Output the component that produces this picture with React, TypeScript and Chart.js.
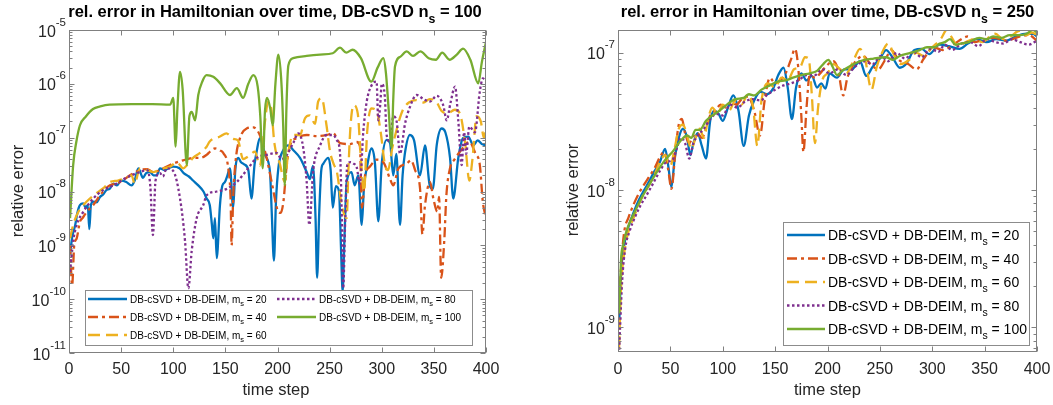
import React, { useEffect, useRef } from "react";
import { Chart, registerables } from "chart.js";

Chart.register(...registerables);

const FONT = '"Liberation Sans", Arial, Helvetica, sans-serif';
const TEXT_COLOR = "#262626";
const AXIS_COLOR = "#808080";

// ---------- series meta ----------
const SERIES_MS = ["20", "40", "60", "80", "100"];
const SERIES_COLORS = ["#0072BD", "#D95319", "#EDB120", "#7E2F8E", "#77AC30"];
const SERIES_DASH: number[][] = [[], [10, 4, 3, 4], [12, 6], [2.5, 2.5], []];
const LINE_WIDTH = 2.3;

// ---------- axes ----------
const X_TICKS = [0, 50, 100, 150, 200, 250, 300, 350, 400];
const LEFT_DECADES = [-11, -10, -9, -8, -7, -6, -5];
const RIGHT_DECADES = [-9, -8, -7];
const LEFT_Y_MIN = 1e-11;
const LEFT_Y_MAX = 1e-5;
const RIGHT_Y_MIN = 6.6e-10;
const RIGHT_Y_MAX = 1.47e-7;

// ---------- left panel data (n_s = 100): [time step, relative error] ----------
const leftM20: [number, number][] = [
  [1, 6.6e-10], [3, 1.4e-9], [6, 2.4e-9], [8, 4.0e-9], [10.5, 5.6e-9], [13.7, 6.0e-9], [16, 5.0e-9], [18, 5.6e-9],
  [19.5, 2.0e-9], [21, 5.6e-9], [23.3, 6.5e-9], [26.5, 6.3e-9], [29.7, 7.9e-9], [33, 8.9e-9], [36, 1.07e-8],
  [39, 1.12e-8], [42.5, 1.4e-8], [46, 1.3e-8], [50, 1.6e-8], [55, 1.5e-8], [60, 1.3e-8], [63, 1.6e-8],
  [66.5, 2.7e-8], [71, 1.8e-8], [74, 2.2e-8], [77.7, 2.3e-8], [81, 2.0e-8], [84, 2.0e-8], [87.3, 2.7e-8],
  [92, 2.5e-8], [96, 2.75e-8], [100, 2.9e-8], [106, 2.7e-8], [110, 2.2e-8], [115, 1.9e-8], [119, 1.6e-8],
  [124, 1.3e-8], [129, 1.0e-8], [132, 7.4e-9], [135, 5.6e-9], [137, 2.5e-9], [138.4, 1.35e-9], [140, 3.2e-9],
  [141.7, 5.8e-10], [144.8, 5.6e-9], [147, 1.26e-8], [149.6, 1.5e-8], [152, 2.0e-8], [154.4, 2.7e-8],
  [157.5, 5.0e-9], [159.5, 2.5e-8], [162.4, 4.2e-8], [165, 3.5e-8], [168, 3.2e-8], [172, 2.5e-8], [175, 7.4e-9],
  [178, 3.2e-8], [180, 5.5e-8], [183, 9.8e-8], [186, 7.1e-8], [188, 4.8e-8], [192.8, 2.3e-8], [194.5, 4.0e-9],
  [196.6, 5.2e-10], [198.5, 6.3e-9], [200.8, 2.7e-8], [205.6, 5.9e-8], [210.4, 7.2e-8], [215, 5.9e-8],
  [221.6, 4.2e-8], [228, 2.3e-8], [231, 1.7e-8], [234, 3.0e-8], [236.5, 3.2e-9], [238, 2.5e-10], [240, 4.0e-9],
  [242, 2.5e-8], [244, 3.3e-8], [248.7, 4.2e-8], [251, 2.5e-8], [253, 5.0e-9], [256, 1.26e-8], [259, 1.0e-8],
  [261, 7.9e-10], [262.5, 1.4e-10], [264, 1.0e-9], [266.4, 1.5e-8], [271, 2.3e-8], [274, 1.3e-8], [277.5, 2.0e-8],
  [280.8, 2.4e-9], [283, 1.26e-8], [285.6, 2.7e-8], [290.3, 6.3e-8], [293.5, 3.3e-8], [296.7, 2.8e-9],
  [300, 3.3e-8], [304.7, 9.1e-8], [308, 7.9e-8], [311, 2.0e-8], [314, 5.0e-8], [317.5, 2.4e-9], [320, 2.0e-8],
  [322, 4.8e-8], [327, 1.12e-7], [331, 8.9e-8], [336.7, 2.0e-8], [341.5, 7.2e-8], [346, 1.3e-8], [349, 1.12e-8],
  [352.7, 7.2e-8], [357.5, 1.48e-7], [361, 1.26e-7], [365.5, 4.2e-8], [368.6, 7.4e-9], [373.4, 4.2e-8],
  [378, 9.8e-8], [383, 1.05e-7], [387.8, 7.2e-8], [392, 8.9e-8], [396, 7.6e-8], [400, 7.2e-8],
];

const leftM40: [number, number][] = [
  [1, 1.0e-9], [3, 1.8e-10], [5, 1.0e-9], [7.4, 1.35e-9], [10.5, 2.75e-9], [13, 3.2e-9], [17, 4.2e-9],
  [23.3, 5.6e-9], [29.7, 8.5e-9], [35, 1.12e-8], [39.3, 1.3e-8], [49, 1.5e-8], [58.5, 2.0e-8], [68, 2.5e-8],
  [75, 2.6e-8], [81, 2.3e-8], [90.5, 2.7e-8], [100, 3.3e-8], [109.6, 3.8e-8], [119, 4.2e-8], [125.7, 4.2e-8],
  [132, 4.8e-8], [135.3, 5.5e-8], [140, 6.3e-8], [144.8, 5.8e-8], [148, 5.2e-8], [152.8, 2.7e-8], [155, 7.4e-9],
  [156, 1.0e-9], [157.5, 7.9e-9], [160, 4.0e-8], [164, 9.8e-8], [170.4, 1.48e-7], [176.8, 1.55e-7],
  [183, 1.12e-7], [189.6, 4.2e-8], [194.4, 1.5e-8], [200.8, 4.2e-9], [203, 4.0e-9], [205.6, 6.3e-9],
  [208.8, 3.0e-8], [212, 7.2e-8], [218.4, 9.8e-8], [228, 1.12e-7], [237.6, 1.07e-7], [247, 1.12e-7],
  [253.5, 1.2e-7], [260, 7.9e-8], [269.5, 7.6e-8], [276, 8.3e-8], [279, 7.1e-8], [281, 5.0e-9], [284, 2.0e-8],
  [288.7, 2.9e-8], [295, 3.9e-8], [301.5, 3.5e-8], [308, 1.7e-8], [311, 1.3e-8], [316, 2.7e-8], [324, 3.3e-8],
  [328, 3.8e-8], [332, 2.5e-8], [336.7, 1.15e-8], [339, 1.6e-9], [341.5, 5.6e-9], [346.3, 1.5e-8],
  [349.5, 7.4e-9], [353.3, 4.2e-9], [355, 7.9e-9], [357, 2.5e-10], [360, 1.26e-9], [362, 8.5e-9],
  [365.5, 2.7e-8], [370, 4.0e-8], [375, 5.5e-8], [380, 7.2e-8], [383, 8.3e-8], [386, 7.6e-8], [390, 5.0e-8],
  [394, 3.2e-8], [397, 6.3e-9], [400, 3.2e-9],
];

const leftM60: [number, number][] = [
  [1, 1.35e-9], [4, 2.4e-9], [9, 4.2e-9], [17, 6.5e-9], [25, 8.9e-9], [33, 1.15e-8], [39.3, 1.5e-8], [47, 1.6e-8],
  [55, 1.8e-8], [60, 2.0e-8], [63, 1.4e-8], [68, 2.7e-8], [75, 2.5e-8], [81, 2.3e-8], [88, 2.6e-8], [97, 2.9e-8],
  [103.3, 3.5e-8], [109.6, 2.7e-8], [114, 3.2e-8], [119, 4.2e-8], [125.6, 5.2e-8], [132, 6.8e-8], [135, 8.5e-8],
  [144.8, 1.05e-7], [151, 1.2e-7], [157.5, 9.5e-8], [162, 8.9e-8], [167, 4.0e-8], [172, 4.5e-8], [178.4, 5.5e-8],
  [183, 3.0e-8], [188, 2.0e-7], [191, 4.7e-7], [194, 3.5e-7], [197, 7.9e-8], [202.4, 3.2e-8], [207, 1.5e-8],
  [210, 4.8e-8], [215, 1.12e-7], [221.6, 1.12e-7], [226.4, 2.3e-7], [231, 2.6e-7], [236, 1.8e-7], [239, 4.7e-7],
  [242.4, 5.4e-7], [247, 1.7e-7], [250.4, 5.5e-8], [254, 3.2e-8], [257, 2.3e-8], [261.6, 5.6e-9], [266.4, 3.2e-9],
  [268, 2.5e-8], [270, 1.6e-7], [273, 4.0e-7], [277, 2.8e-7], [280, 4.0e-8], [283, 1.0e-8], [286, 1.26e-7],
  [290, 3.5e-7], [295, 3.2e-7], [299, 1.26e-7], [303, 3.2e-8], [306, 2.5e-8], [310, 6.3e-8], [315, 1.6e-7],
  [320, 3.2e-7], [326, 4.5e-7], [333, 5.0e-7], [340, 4.5e-7], [346, 5.2e-7], [352, 4.8e-7], [357, 3.2e-7],
  [363, 2.8e-7], [370, 3.3e-7], [375, 2.8e-7], [380, 7.9e-8], [384, 1.6e-8], [387, 4.0e-8], [391, 2.5e-7],
  [395, 2.0e-7], [398, 1.0e-7], [400, 1.6e-7],
];

const leftM80: [number, number][] = [
  [1, 3.2e-10], [2.5, 6.3e-10], [4, 1.2e-9], [7.4, 2.4e-9], [13.7, 4.2e-9], [23.3, 7.4e-9], [33, 1.07e-8],
  [42.5, 1.3e-8], [55, 1.8e-8], [68, 2.3e-8], [75, 2.5e-8], [78, 1.26e-8], [80.5, 1.55e-9], [83, 1.6e-8],
  [87.3, 2.2e-8], [90, 1.9e-8], [93.7, 2.7e-8], [100, 2.4e-8], [106.5, 7.4e-9], [111.3, 1.2e-9], [114.5, 1.6e-10],
  [117.7, 7.9e-10], [122.5, 3.2e-9], [128.8, 5.6e-9], [132, 8.5e-9], [141.7, 1.0e-8], [151.3, 1.12e-8],
  [160.9, 1.5e-8], [170.5, 2.5e-8], [180, 4.2e-8], [189.6, 4.8e-8], [199, 5.2e-8], [204, 4.0e-8], [208, 4.5e-8],
  [215, 7.9e-8], [220, 1.2e-7], [224.8, 6.3e-8], [228, 1.5e-8], [230.5, 2.4e-9], [234.3, 2.5e-8], [240.8, 7.1e-8],
  [247, 1.12e-7], [253.5, 1.12e-7], [257, 8.9e-8], [260, 5.0e-8], [261.5, 5.0e-9], [263, 1.6e-10], [265, 3.2e-9],
  [267, 3.2e-8], [270, 3.5e-8], [273, 3.3e-8], [276, 2.8e-8], [279, 1.4e-8], [282.3, 1.3e-7], [285.6, 4.7e-7],
  [290.4, 9.5e-7], [295, 1.1e-6], [296.7, 2.1e-7], [298.5, 4.0e-7], [300, 1.0e-6], [303, 5.6e-7], [304.7, 1.12e-7],
  [308, 8.5e-8], [311, 2.5e-7], [314.3, 2.0e-7], [317.5, 5.0e-8], [322.3, 1.8e-7], [327, 3.7e-7], [333.5, 6.2e-7],
  [340, 5.2e-7], [346.3, 4.7e-7], [352.7, 6.0e-7], [359, 4.0e-7], [362.3, 2.1e-7], [366, 4.5e-7], [370.3, 8.9e-7],
  [373.4, 2.1e-7], [376.6, 3.1e-8], [379, 1.26e-7], [381, 5.0e-8], [384, 1.6e-7], [389.4, 1.26e-7], [394, 7.1e-7],
  [397, 1.26e-6], [400, 1.1e-6],
];

const leftM100: [number, number][] = [
  [1, 3.2e-9], [4, 3.1e-8], [7, 8.3e-8], [10.5, 1.7e-7], [16, 2.45e-7], [23, 3.4e-7], [30, 3.8e-7], [39, 4.1e-7],
  [60, 4.2e-7], [80, 4.2e-7], [97, 4.1e-7], [100, 5.5e-7], [102.3, 6.8e-8], [104, 3.5e-7], [106.5, 1.66e-6],
  [109, 7.9e-7], [113, 3.1e-8], [115.5, 2.5e-7], [117.7, 3.0e-7], [121, 2.1e-7], [124, 6.2e-7], [128, 1.12e-6],
  [132, 1.45e-6], [138.4, 1.35e-6], [145, 1.02e-6], [154.4, 6.2e-7], [161, 8.3e-7], [167, 5.5e-7], [172, 1.0e-6],
  [176.8, 1.45e-6], [181, 8.9e-7], [183.5, 2.5e-7], [185.8, 2.7e-8], [188, 3.2e-7], [190, 5.5e-7], [193, 3.5e-7],
  [195.4, 1.7e-7], [198, 1.0e-6], [200.8, 3.5e-6], [203.5, 1.26e-6], [205.5, 1.6e-7], [207, 1.3e-8],
  [208.5, 3.2e-7], [210.4, 2.2e-6], [215, 3.0e-6], [228, 3.3e-6], [240.8, 3.5e-6], [253, 3.7e-6], [260, 4.7e-6],
  [266, 3.8e-6], [272, 4.3e-6], [280, 3.0e-6], [290, 1.1e-6], [296, 2.0e-6], [301.5, 3.0e-6], [304, 1.6e-6],
  [306.3, 4.1e-7], [309.5, 6.5e-8], [311, 5.0e-7], [312.7, 2.1e-6], [318, 3.2e-6], [324, 4.0e-6], [330, 3.3e-6],
  [337, 4.0e-6], [345, 3.0e-6], [352, 2.8e-6], [358, 3.8e-6], [365, 2.8e-6], [372, 3.5e-6], [378, 4.5e-6],
  [385, 2.8e-6], [392.6, 1.02e-6], [396, 2.5e-6], [400, 6.0e-6],
];

// ---------- right panel data (n_s = 250) ----------
const rightM20: [number, number][] = [
  [1, 1.0e-9], [3, 2.5e-9], [6, 4.0e-9], [10, 5.4e-9], [15, 6.9e-9], [20, 8.5e-9], [25, 1.0e-8], [30, 1.17e-8],
  [35, 1.38e-8], [40, 1.6e-8], [45, 2.0e-8], [48, 1.5e-8], [51, 1.05e-8], [54, 1.66e-8], [58, 2.4e-8], [62, 2.8e-8],
  [66, 2.4e-8], [69, 1.8e-8], [72, 2.2e-8], [76, 2.6e-8], [80, 2.1e-8], [84, 1.7e-8], [88, 3.2e-8], [92, 3.8e-8],
  [96, 3.6e-8], [100, 3.2e-8], [105, 4.0e-8], [110, 4.9e-8], [115, 3.8e-8], [120, 2.1e-8], [125, 3.5e-8],
  [130, 4.5e-8], [136, 5.2e-8], [142, 5.0e-8], [148, 5.5e-8], [153, 6.9e-8], [158, 7.8e-8], [162, 5.6e-8],
  [166, 3.3e-8], [170, 5.6e-8], [175, 7.1e-8], [180, 6.3e-8], [185, 6.8e-8], [190, 5.6e-8], [194, 6.0e-8],
  [198, 5.5e-8], [202, 7.1e-8], [209, 6.6e-8], [216, 7.6e-8], [223, 7.6e-8], [231, 8.7e-8], [237, 6.8e-8],
  [243, 7.9e-8], [250, 9.1e-8], [256, 1.05e-7], [262, 9.3e-8], [269, 7.8e-8], [275, 8.3e-8], [283, 1.05e-7],
  [290, 1.07e-7], [297, 9.8e-8], [307, 1.15e-7], [316, 1.12e-7], [326, 1.07e-7], [334, 1.17e-7], [342, 1.26e-7],
  [352, 1.2e-7], [361, 1.26e-7], [371, 1.23e-7], [380, 1.32e-7], [390, 1.38e-7], [396, 1.38e-7], [400, 1.32e-7],
];

const rightM40: [number, number][] = [
  [1, 1.4e-9], [3, 2.8e-9], [6, 5.0e-9], [10, 6.3e-9], [15, 7.9e-9], [20, 9.5e-9], [25, 1.1e-8], [30, 1.26e-8],
  [35, 1.45e-8], [40, 1.74e-8], [44, 1.9e-8], [48, 1.4e-8], [51, 1.02e-8], [55, 2.0e-8], [58, 3.0e-8], [61, 3.3e-8],
  [64, 2.6e-8], [68, 2.2e-8], [72, 2.5e-8], [76, 2.6e-8], [80, 2.4e-8], [84, 2.8e-8], [88, 3.5e-8], [93, 3.8e-8],
  [98, 4.2e-8], [103, 4.0e-8], [108, 4.4e-8], [113, 4.2e-8], [118, 4.6e-8], [124, 4.8e-8], [130, 3.8e-8],
  [135.6, 2.5e-8], [140, 4.5e-8], [145, 6.6e-8], [150, 6.0e-8], [155, 6.3e-8], [160, 7.1e-8], [165, 8.9e-8],
  [169, 1.07e-7], [172, 7.9e-8], [175, 3.5e-8], [177, 1.9e-8], [180, 4.0e-8], [183, 6.9e-8], [188, 6.6e-8],
  [193, 7.1e-8], [198, 7.9e-8], [205.6, 8.7e-8], [210, 7.6e-8], [215, 4.9e-8], [219, 6.6e-8], [225, 8.3e-8],
  [234, 9.5e-8], [241, 8.3e-8], [248.5, 7.6e-8], [255, 8.9e-8], [261, 1.05e-7], [268, 8.9e-8], [277, 8.3e-8],
  [285, 7.6e-8], [292, 9.1e-8], [301, 1.1e-7], [310, 1.05e-7], [320, 1.15e-7], [330, 1.29e-7], [334, 1.32e-7],
  [340, 1.2e-7], [350, 1.26e-7], [359, 1.29e-7], [370, 1.23e-7], [384, 1.32e-7], [392, 1.35e-7], [400, 1.23e-7],
];

const rightM60: [number, number][] = [
  [1, 7.1e-10], [3, 2.0e-9], [6, 3.5e-9], [10, 5.0e-9], [15, 6.3e-9], [20, 7.9e-9], [25, 9.5e-9], [30, 1.1e-8],
  [35, 1.3e-8], [40, 1.6e-8], [45, 1.8e-8], [50, 1.5e-8], [54, 2.0e-8], [58, 2.8e-8], [62, 3.0e-8], [66, 2.5e-8],
  [70, 2.0e-8], [74, 2.4e-8], [78, 2.8e-8], [82, 2.4e-8], [86, 3.3e-8], [90, 4.0e-8], [95, 3.6e-8], [100, 4.2e-8],
  [106, 3.8e-8], [112, 4.5e-8], [118, 4.2e-8], [124, 5.0e-8], [129, 4.0e-8], [133, 2.1e-8], [137, 4.5e-8],
  [143, 6.0e-8], [150, 5.6e-8], [156, 6.6e-8], [162, 6.3e-8], [168, 7.6e-8], [174, 7.9e-8], [178.5, 9.3e-8],
  [182, 9.1e-8], [185, 5.0e-8], [188, 2.2e-8], [191, 4.0e-8], [195, 6.3e-8], [200, 7.1e-8], [206, 8.3e-8],
  [212, 7.6e-8], [218, 7.1e-8], [225, 8.9e-8], [231, 1.07e-7], [236, 8.9e-8], [242, 5.4e-8], [247, 7.9e-8],
  [252, 1.0e-7], [258, 1.17e-7], [264, 9.5e-8], [270, 8.3e-8], [278, 8.9e-8], [285, 1.0e-7], [292, 9.5e-8],
  [300, 1.1e-7], [308, 1.26e-7], [314, 1.48e-7], [318, 1.32e-7], [325, 1.12e-7], [332, 1.2e-7], [340, 1.26e-7],
  [348, 1.2e-7], [355, 1.32e-7], [360, 1.38e-7], [368, 1.26e-7], [375, 1.32e-7], [383, 1.45e-7], [390, 1.35e-7],
  [395, 1.41e-7], [400, 1.35e-7],
];

const rightM80: [number, number][] = [
  [1, 6.3e-10], [2, 1.0e-9], [4, 2.2e-9], [7, 3.8e-9], [11, 5.0e-9], [16, 6.3e-9], [21, 7.6e-9], [27, 9.1e-9],
  [33, 1.1e-8], [40, 1.38e-8], [46, 1.6e-8], [52, 1.66e-8], [56, 2.0e-8], [60, 2.4e-8], [64, 2.2e-8], [68, 1.7e-8],
  [72, 2.2e-8], [76, 2.5e-8], [82, 2.8e-8], [88, 3.3e-8], [94, 3.6e-8], [100, 3.5e-8], [107, 4.2e-8], [114, 4.0e-8],
  [121, 4.4e-8], [128, 4.6e-8], [136, 4.5e-8], [143, 5.0e-8], [150, 5.4e-8], [158, 5.8e-8], [165, 6.0e-8],
  [172, 6.3e-8], [180, 6.9e-8], [188, 6.9e-8], [195, 7.6e-8], [202, 7.1e-8], [210, 7.6e-8], [218, 6.9e-8],
  [226, 7.9e-8], [235, 8.7e-8], [243, 8.3e-8], [251, 9.5e-8], [258, 8.7e-8], [266, 1.0e-7], [274, 9.1e-8],
  [282, 1.02e-7], [290, 9.3e-8], [298, 1.07e-7], [306, 1.02e-7], [312, 1.15e-7], [319, 1.05e-7], [328, 1.17e-7],
  [336, 1.2e-7], [344, 1.12e-7], [352, 1.26e-7], [360, 1.2e-7], [368, 1.17e-7], [376, 1.26e-7], [384, 1.2e-7],
  [392, 1.15e-7], [400, 1.23e-7],
];

const rightM100: [number, number][] = [
  [1, 1.26e-9], [2, 2.0e-9], [3, 3.2e-9], [5, 4.0e-9], [8, 5.0e-9], [12, 6.0e-9], [17, 7.2e-9], [23, 8.9e-9],
  [30, 1.1e-8], [37, 1.35e-8], [45, 1.66e-8], [52, 1.9e-8], [60, 2.3e-8], [66, 2.5e-8], [70, 2.4e-8],
  [74, 2.75e-8], [78, 2.75e-8], [84, 3.2e-8], [90, 3.5e-8], [97, 3.8e-8], [104, 4.2e-8], [112, 4.6e-8],
  [120, 4.7e-8], [125, 5.0e-8], [130, 4.9e-8], [137, 5.4e-8], [145, 5.8e-8], [153, 6.2e-8], [160, 6.3e-8],
  [167, 6.6e-8], [175, 6.9e-8], [183, 7.1e-8], [190, 7.4e-8], [196, 8.3e-8], [200.8, 8.9e-8], [205, 7.9e-8],
  [209, 6.9e-8], [214, 7.4e-8], [220, 7.9e-8], [231, 8.7e-8], [244, 9.1e-8], [256, 9.3e-8], [262, 8.9e-8],
  [269, 9.5e-8], [279, 1.0e-7], [288, 1.05e-7], [295, 1.1e-7], [302, 1.1e-7], [307, 1.17e-7], [312, 1.2e-7],
  [317, 1.26e-7], [322, 1.15e-7], [327, 1.17e-7], [335, 1.2e-7], [345, 1.29e-7], [352, 1.26e-7], [358, 1.32e-7],
  [366, 1.29e-7], [374, 1.35e-7], [384, 1.35e-7], [390, 1.38e-7], [396, 1.48e-7], [400, 1.41e-7],
];

const LEFT_SERIES = [leftM20, leftM40, leftM60, leftM80, leftM100];
const RIGHT_SERIES = [rightM20, rightM40, rightM60, rightM80, rightM100];

// ---------- helpers ----------
const font = (size: number, bold = false) => `${bold ? "bold " : ""}${size}px ${FONT}`;

type Part = { t: string; sub?: boolean };

function drawRich(ctx: CanvasRenderingContext2D, parts: Part[], x: number, baseline: number, size: number, bold: boolean, align: "left" | "center") {
  const subSize = size * 0.75;
  const widths = parts.map((p) => {
    ctx.font = font(p.sub ? subSize : size, bold);
    return ctx.measureText(p.t).width;
  });
  const total = widths.reduce((s, w) => s + w, 0);
  let cx = align === "center" ? x - total / 2 : x;
  ctx.textAlign = "left";
  ctx.textBaseline = "alphabetic";
  parts.forEach((p, i) => {
    ctx.font = font(p.sub ? subSize : size, bold);
    ctx.fillText(p.t, cx, baseline + (p.sub ? size * 0.38 : 0));
    cx += widths[i];
  });
}

type LegendSpec = {
  box: [number, number, number, number];
  fontSize: number;
  lineLen: number;
  slots: [number, number][];
};

type PanelSpec = {
  title: Part[];
  titleX: number;
  xLabelX: number;
  yLabelX: number;
  yLabelY: number;
  decades: number[];
  legend: LegendSpec;
};

function decorPlugin(spec: PanelSpec) {
  return {
    id: "decor",
    afterDraw(chart: any) {
      const ctx: CanvasRenderingContext2D = chart.ctx;
      const a = chart.chartArea;
      const xs = chart.scales.x;
      const ys = chart.scales.y;
      ctx.save();
      ctx.setLineDash([]);

      // axes box
      const L = Math.round(a.left) + 0.5;
      const R = Math.round(a.right) - 0.5;
      const T = Math.round(a.top) + 0.5;
      const B = Math.round(a.bottom) - 0.5;
      ctx.strokeStyle = AXIS_COLOR;
      ctx.lineWidth = 1;
      ctx.strokeRect(L, T, R - L, B - T);

      // inward ticks
      ctx.beginPath();
      for (const v of X_TICKS) {
        const px = Math.round(xs.getPixelForValue(v)) + 0.5;
        ctx.moveTo(px, B);
        ctx.lineTo(px, B - 5);
        ctx.moveTo(px, T);
        ctx.lineTo(px, T + 5);
      }
      const yMin = ys.min;
      const yMax = ys.max;
      for (let e = Math.floor(Math.log10(yMin)); e <= Math.ceil(Math.log10(yMax)); e++) {
        for (let k = 1; k <= 9; k++) {
          const v = k * Math.pow(10, e);
          if (v < yMin * 0.999 || v > yMax * 1.001) continue;
          const py = Math.round(ys.getPixelForValue(v)) + 0.5;
          const len = k === 1 ? 5 : 3;
          ctx.moveTo(L, py);
          ctx.lineTo(L + len, py);
          ctx.moveTo(R, py);
          ctx.lineTo(R - len, py);
        }
      }
      ctx.stroke();

      // tick labels
      ctx.fillStyle = TEXT_COLOR;
      ctx.textBaseline = "alphabetic";
      ctx.font = font(16);
      ctx.textAlign = "center";
      for (const v of X_TICKS) ctx.fillText(String(v), xs.getPixelForValue(v), 374);
      for (const e of spec.decades) {
        const py = ys.getPixelForValue(Math.pow(10, e));
        const exp = String(e);
        ctx.font = font(11.5);
        const ew = ctx.measureText(exp).width;
        ctx.textAlign = "left";
        ctx.fillText(exp, a.left - 3 - ew, py - 4.5);
        ctx.font = font(16);
        ctx.textAlign = "right";
        ctx.fillText("10", a.left - 3 - ew, py + 6.5);
      }

      // axis titles
      ctx.font = font(16.5);
      ctx.textAlign = "center";
      ctx.fillText("time step", spec.xLabelX, 395);
      ctx.save();
      ctx.translate(spec.yLabelX, spec.yLabelY);
      ctx.rotate(-Math.PI / 2);
      ctx.textBaseline = "middle";
      ctx.fillText("relative error", 0, 0);
      ctx.restore();

      // title
      ctx.fillStyle = "#000000";
      drawRich(ctx, spec.title, spec.titleX, 16.5, 16.5, true, "center");

      // legend
      const lg = spec.legend;
      const [bx, by, bw, bh] = lg.box;
      ctx.fillStyle = "#ffffff";
      ctx.fillRect(bx, by, bw, bh);
      ctx.strokeStyle = "#8c8c8c";
      ctx.lineWidth = 1;
      ctx.strokeRect(bx + 0.5, by + 0.5, bw, bh);
      SERIES_MS.forEach((ms, i) => {
        const [sx, sy] = lg.slots[i];
        ctx.strokeStyle = SERIES_COLORS[i];
        ctx.lineWidth = LINE_WIDTH;
        ctx.lineCap = "butt";
        ctx.setLineDash(SERIES_DASH[i]);
        ctx.beginPath();
        ctx.moveTo(sx, sy);
        ctx.lineTo(sx + lg.lineLen, sy);
        ctx.stroke();
        ctx.setLineDash([]);
        ctx.fillStyle = "#000000";
        drawRich(
          ctx,
          [{ t: "DB-cSVD + DB-DEIM, m" }, { t: "s", sub: true }, { t: " = " + ms }],
          sx + lg.lineLen + 3,
          sy + lg.fontSize * 0.36,
          lg.fontSize,
          false,
          "left"
        );
      });
      ctx.restore();
    },
  };
}

function makeConfig(series: [number, number][][], yMin: number, yMax: number, padding: any, spec: PanelSpec): any {
  return {
    type: "line",
    data: {
      datasets: series.map((s, i) => ({
        label: "DB-cSVD + DB-DEIM, m_s = " + SERIES_MS[i],
        data: s.map(([x, y]) => ({ x, y })),
        borderColor: SERIES_COLORS[i],
        backgroundColor: SERIES_COLORS[i],
        borderWidth: LINE_WIDTH,
        borderDash: SERIES_DASH[i],
        borderCapStyle: "butt",
        borderJoinStyle: "round",
        pointRadius: 0,
        fill: false,
        cubicInterpolationMode: "monotone",
        order: 4 - i,
      })),
    },
    options: {
      animation: false,
      responsive: false,
      events: [],
      layout: { padding },
      plugins: {
        legend: { display: false },
        title: { display: false },
        tooltip: { enabled: false },
      },
      scales: {
        x: { type: "linear", min: 0, max: 400, display: false },
        y: { type: "logarithmic", min: yMin, max: yMax, display: false },
      },
    },
    plugins: [decorPlugin(spec)],
  };
}

const LEFT_SPEC: PanelSpec = {
  title: [{ t: "rel. error in Hamiltonian over time, DB-cSVD n" }, { t: "s", sub: true }, { t: " = 100" }],
  titleX: 275,
  xLabelX: 276,
  yLabelX: 18,
  yLabelY: 191,
  decades: LEFT_DECADES,
  legend: {
    box: [85, 290, 387, 55],
    fontSize: 10,
    lineLen: 39,
    slots: [[88, 299], [88, 317], [88, 335], [277, 299], [277, 317]],
  },
};

const RIGHT_SPEC: PanelSpec = {
  title: [{ t: "rel. error in Hamiltonian over time, DB-cSVD n" }, { t: "s", sub: true }, { t: " = 250" }],
  titleX: 297.5,
  xLabelX: 297.5,
  yLabelX: 43,
  yLabelY: 190,
  decades: RIGHT_DECADES,
  legend: {
    box: [253, 222, 246, 123],
    fontSize: 14,
    lineLen: 38,
    slots: [[257, 235], [257, 258.5], [257, 282], [257, 305.5], [257, 329]],
  },
};

export default function App() {
  const leftRef = useRef<HTMLCanvasElement>(null);
  const rightRef = useRef<HTMLCanvasElement>(null);

  useEffect(() => {
    const c1 = new Chart(
      leftRef.current as HTMLCanvasElement,
      makeConfig(LEFT_SERIES, LEFT_Y_MIN, LEFT_Y_MAX, { left: 69, right: 44, top: 30, bottom: 52 }, LEFT_SPEC)
    );
    const c2 = new Chart(
      rightRef.current as HTMLCanvasElement,
      makeConfig(RIGHT_SERIES, RIGHT_Y_MIN, RIGHT_Y_MAX, { left: 88, right: 16, top: 30, bottom: 53 }, RIGHT_SPEC)
    );
    return () => {
      c1.destroy();
      c2.destroy();
    };
  }, []);

  return (
    <div style={{ position: "fixed", left: 0, top: 0, width: 1053, height: 405, background: "#ffffff" }}>
      <canvas ref={leftRef} width={530} height={405} style={{ position: "absolute", left: 0, top: 0 }} />
      <canvas ref={rightRef} width={523} height={405} style={{ position: "absolute", left: 530, top: 0 }} />
    </div>
  );
}
